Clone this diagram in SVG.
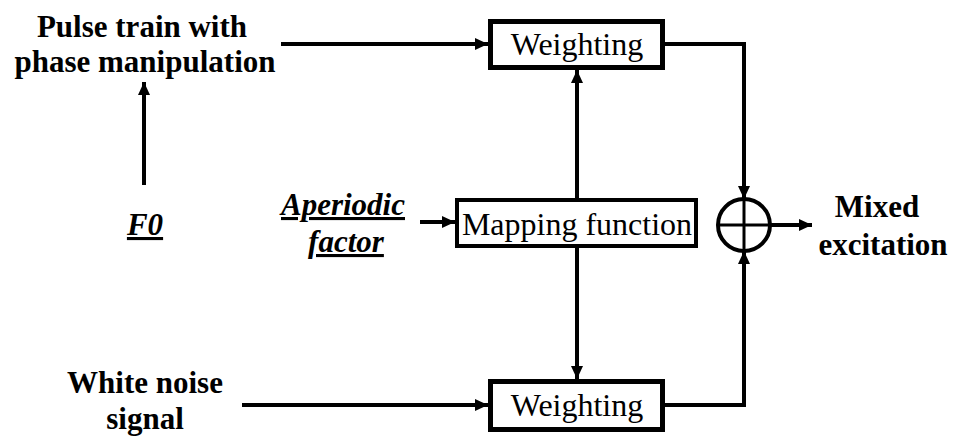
<svg xmlns="http://www.w3.org/2000/svg" width="953" height="441" viewBox="0 0 953 441">
  <style>
    .box { fill: #fff; stroke: #000; stroke-width: 5; }
    .boxtxt { font-family: 'Liberation Serif', 'Times New Roman', serif; font-size: 32px; fill: #000; text-anchor: middle; }
    .lbl { font-family: 'Liberation Serif', 'Times New Roman', serif; font-size: 31px; font-weight: bold; fill: #000; text-anchor: middle; }
    .ital { font-style: italic; text-decoration: underline; }
    .wire { fill: none; stroke: #000; stroke-width: 4; }
  </style>
  <defs>
    <marker id="arrow" markerUnits="userSpaceOnUse" markerWidth="14" markerHeight="12" refX="13" refY="6" orient="auto">
      <path d="M0,0 L13,6 L0,12 z" fill="#000"/>
    </marker>
  </defs>

  <!-- input labels -->
  <g id="pulse-train">
    <text class="lbl" x="142" y="37">Pulse train with</text>
    <text class="lbl" x="145" y="72">phase manipulation</text>
  </g>
  <g id="f0">
    <text class="lbl ital" x="145" y="235">F0</text>
  </g>
  <g id="aperiodic">
    <text class="lbl ital" x="343" y="215">Aperiodic</text>
    <text class="lbl ital" x="346" y="252">factor</text>
  </g>
  <g id="white-noise">
    <text class="lbl" x="145" y="393">White noise</text>
    <text class="lbl" x="145" y="429">signal</text>
  </g>

  <!-- processing blocks -->
  <g id="weighting-top">
    <rect class="box" x="490.5" y="21.5" width="172" height="46"/>
    <text class="boxtxt" x="577" y="55">Weighting</text>
  </g>
  <g id="mapping">
    <rect class="box" x="457" y="200" width="239" height="46" style="stroke-width:4"/>
    <text class="boxtxt" x="577" y="235">Mapping function</text>
  </g>
  <g id="weighting-bottom">
    <rect class="box" x="490.5" y="381.5" width="172" height="48"/>
    <text class="boxtxt" x="577" y="416">Weighting</text>
  </g>
  <g id="sum">
    <circle cx="744" cy="225" r="26" fill="#fff" stroke="#000" stroke-width="4"/>
    <line x1="718" y1="225" x2="770" y2="225" stroke="#000" stroke-width="3"/>
    <line x1="744" y1="199" x2="744" y2="251" stroke="#000" stroke-width="3"/>
  </g>
  <g id="mixed-excitation">
    <text class="lbl" x="877" y="217">Mixed</text>
    <text class="lbl" x="883" y="255">excitation</text>
  </g>

  <!-- connectors -->
  <g id="connectors">
    <line class="wire" x1="281" y1="44" x2="488" y2="44" marker-end="url(#arrow)"/>
    <line class="wire" x1="144" y1="185" x2="144" y2="82" marker-end="url(#arrow)"/>
    <line class="wire" x1="420" y1="222" x2="455" y2="222" marker-end="url(#arrow)"/>
    <line class="wire" x1="577" y1="198" x2="577" y2="70" marker-end="url(#arrow)"/>
    <line class="wire" x1="577" y1="248" x2="577" y2="379" marker-end="url(#arrow)"/>
    <line class="wire" x1="242" y1="405" x2="488" y2="405" marker-end="url(#arrow)"/>
    <polyline class="wire" points="665,44 744,44 744,199" marker-end="url(#arrow)"/>
    <polyline class="wire" points="665,405 744,405 744,251" marker-end="url(#arrow)"/>
    <line class="wire" x1="770" y1="225" x2="812" y2="225" marker-end="url(#arrow)"/>
  </g>
</svg>
